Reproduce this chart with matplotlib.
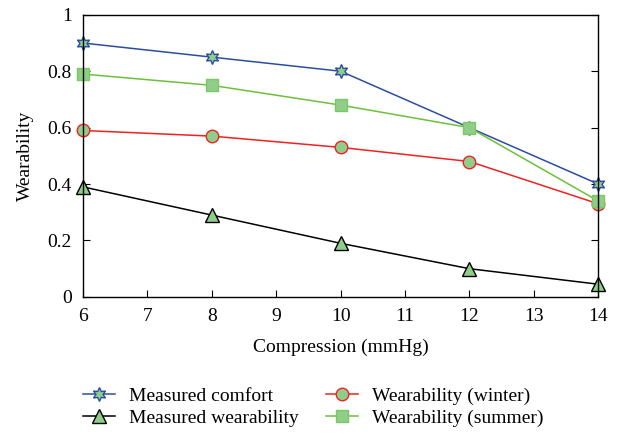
import matplotlib.pyplot as plt

# Data
compression = [6, 8, 10, 12, 14]
measured_comfort = [0.90, 0.85, 0.80, 0.60, 0.40]
measured_wearability = [0.39, 0.29, 0.19, 0.10, 0.045]
wear_winter = [0.59, 0.57, 0.53, 0.48, 0.33]
wear_summer = [0.79, 0.75, 0.68, 0.60, 0.34]

plt.rcParams['font.family'] = ['Liberation Serif', 'DejaVu Serif']
plt.rcParams['font.size'] = 13

fill = '#8fce8a'

fig = plt.figure(figsize=(6.2, 4.36), dpi=100)
ax = fig.add_axes([0.134, 0.319, 0.831, 0.647])

l1, = ax.plot(compression, measured_comfort, color='#2b4da0', lw=1.1, marker=(6, 1, 0),
              ms=10, mfc=fill, mec='#2b4da0', mew=1.0, clip_on=False,
              label='Measured comfort')
l2, = ax.plot(compression, wear_winter, color='#ee2222', lw=1.1, marker='o',
              ms=9, mfc=fill, mec='#ee2222', mew=1.0, clip_on=False,
              label='Wearability (winter)')
l3, = ax.plot(compression, measured_wearability, color='black', lw=1.1, marker='^',
              ms=10, mfc=fill, mec='black', mew=1.0, clip_on=False,
              label='Measured wearability')
l4, = ax.plot(compression, wear_summer, color='#6cc03a', lw=1.1, marker='s',
              ms=8, mfc=fill, mec='#7cc860', mew=1.0, clip_on=False,
              label='Wearability (summer)')

ax.set_xlim(6, 14)
ax.set_ylim(0, 1)
ax.set_xticks(range(6, 15))
ax.set_yticks([0, 0.2, 0.4, 0.6, 0.8, 1])
ax.set_yticklabels(['0', '0.2', '0.4', '0.6', '0.8', '1'])
ax.tick_params(direction='in', top=False, right=True, length=5, labelsize=14)
ax.tick_params(axis='x', pad=8)
ax.tick_params(axis='y', pad=8)
for s in ax.spines.values():
    s.set_linewidth(1.0)

ax.set_xlabel('Compression (mmHg)', fontsize=14, labelpad=10)
ax.set_ylabel('Wearability', fontsize=14, labelpad=10)

fig.legend([l1, l3, l2, l4], [h.get_label() for h in [l1, l3, l2, l4]],
           loc='upper left', bbox_to_anchor=(0.106, 0.152),
           ncol=2, frameon=False, fontsize=14, handlelength=1.65,
           columnspacing=1.4, labelspacing=0.22, handletextpad=0.7)

fig.savefig('out.png', dpi=100)
